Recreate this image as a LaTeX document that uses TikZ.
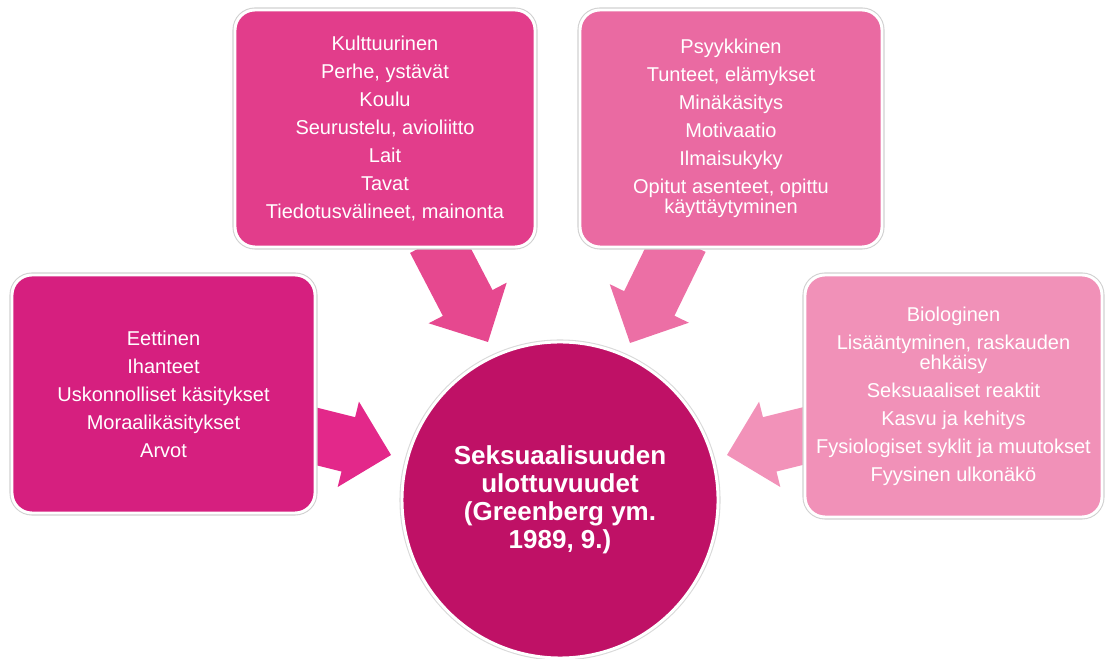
\documentclass[tikz,border=0pt]{standalone}
\usepackage{fontspec}
\setmainfont{Liberation Sans}
\usetikzlibrary{calc}
\pgfdeclarelayer{bg}
\pgfsetlayers{bg,main}
\definecolor{ethC}{HTML}{D61F7F}
\definecolor{cultC}{HTML}{E23D8B}
\definecolor{psyC}{HTML}{EA6AA2}
\definecolor{bioC}{HTML}{F191B8}
\definecolor{hubC}{HTML}{BF1166}
\definecolor{arA}{HTML}{E6488F}
\definecolor{arB}{HTML}{EC6FA5}
\definecolor{arC}{HTML}{E3288A}
\definecolor{arD}{HTML}{F292B9}
\newcommand\blockarrow[4]{%
  \fill[#4, shift={(#1)}, rotate=#2]
    (0,0) -- (-44,44) -- (-44,28) -- (-#3,28) -- (-#3,-28)
    -- (-44,-28) -- (-44,-44) -- cycle;}
\begin{document}
\begin{tikzpicture}[x=0.75pt,y=0.75pt,
  box/.style={rectangle, rounded corners=15pt, draw=white, line width=2.2pt,
    preaction={draw=black!18, line width=3.8pt},
    text=white, align=center, inner sep=2pt,
    font=\fontsize{15}{15}\selectfont},
  hub/.style={circle, draw=white, line width=2.2pt,
    preaction={draw=black!15, line width=3.8pt},
    text=white, align=center, inner sep=0pt, minimum size=237pt,
    font=\bfseries\fontsize{19.5}{21}\selectfont}]
\useasboundingbox (0,0) rectangle (1105,659);

\node[box, fill=cultC, minimum width=225pt, minimum height=177.75pt] (cult) at (385,530.5)
  {Kulttuurinen\\[6pt]Perhe, ystävät\\[6pt]Koulu\\[6pt]Seurustelu, avioliitto\\[6pt]Lait\\[6pt]Tavat\\[6pt]Tiedotusvälineet, mainonta};
\node[box, fill=psyC, minimum width=226.5pt, minimum height=177.75pt] (psy) at (731,530.5)
  {Psyykkinen\\[6pt]Tunteet, elämykset\\[6pt]Minäkäsitys\\[6pt]Motivaatio\\[6pt]Ilmaisukyky\\[6pt]Opitut asenteet, opittu\\käyttäytyminen};
\node[box, fill=ethC, minimum width=227.25pt, minimum height=178.5pt] (eth) at (163.5,265)
  {Eettinen\\[6pt]Ihanteet\\[6pt]Uskonnolliset käsitykset\\[6pt]Moraalikäsitykset\\[6pt]Arvot};
\node[box, fill=bioC, minimum width=222.75pt, minimum height=181.5pt] (bio) at (953.5,263)
  {Biologinen\\[6pt]Lisääntyminen, raskauden\\ehkäisy\\[6pt]Seksuaaliset reaktit\\[6pt]Kasvu ja kehitys\\[6pt]Fysiologiset syklit ja muutokset\\[6pt]Fyysinen ulkonäkö};
\node[hub, fill=hubC] (ctr) at (560,159)
  {Seksuaalisuuden\\ulottuvuudet\\(Greenberg ym.\\1989, 9.)};

\coordinate (t1) at ($(ctr.center)+(-72,158)$);
\coordinate (t2) at ($(ctr.center)+(70,157)$);
\coordinate (t3) at ($(ctr.center)+(-169,45)$);
\coordinate (t4) at ($(ctr.center)+(167,45)$);

\begin{pgfonlayer}{bg}
\blockarrow{t1}{-62.5}{115}{arA}
\blockarrow{t2}{-116}{115}{arB}
\blockarrow{t3}{-14}{90}{arC}
\blockarrow{t4}{194}{95}{arD}
\end{pgfonlayer}
\end{tikzpicture}
\end{document}
